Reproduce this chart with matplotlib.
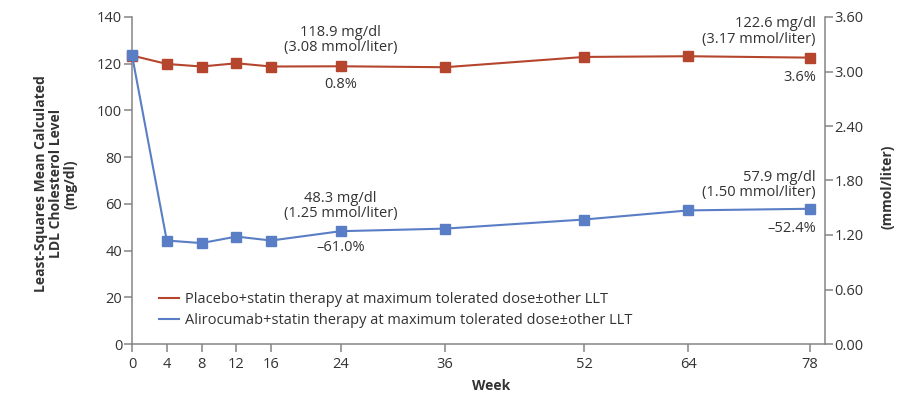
import matplotlib
matplotlib.use("Agg")
import matplotlib.pyplot as plt
from matplotlib.lines import Line2D

plt.rcParams['font.family'] = ['Open Sans', 'DejaVu Sans']

# Study weeks and least-squares mean LDL cholesterol (mg/dl)
weeks = [0, 4, 8, 12, 16, 24, 36, 52, 64, 78]
placebo = [123.5, 119.9, 118.8, 120.2, 118.8, 118.9, 118.5, 122.9, 123.2, 122.6]
alirocumab = [123.7, 44.3, 43.2, 46.0, 44.3, 48.3, 49.4, 53.3, 57.2, 57.9]

placebo_label = "Placebo+statin therapy at maximum tolerated dose\u00b1other LLT"
alirocumab_label = "Alirocumab+statin therapy at maximum tolerated dose\u00b1other LLT"

# Callouts: (week, mg/dl, mmol/liter, percent change)
placebo_w24 = (24, 118.9, "3.08", "0.8%")
placebo_w78 = (78, 122.6, "3.17", "3.6%")
aliro_w24 = (24, 48.3, "1.25", "\u201361.0%")
aliro_w78 = (78, 57.9, "1.50", "\u201352.4%")

left_ticks = [0, 20, 40, 60, 80, 100, 120, 140]
right_ticks = [0.0, 0.6, 1.2, 1.8, 2.4, 3.0, 3.6]

RED = "#b5462d"
BLUE = "#5a7ec6"
AXIS = "#858585"
TEXT = "#333333"
FS = 10.5
LFS = 10

fig = plt.figure(figsize=(8.98, 3.96), dpi=100)
ax = fig.add_axes([132 / 898, 1 - 344 / 396, 693 / 898, 327 / 396])

ax.plot(weeks, placebo, color=RED, lw=1.5, marker="s", ms=7.5,
        zorder=3, clip_on=False)
ax.plot(weeks, alirocumab, color=BLUE, lw=1.5, marker="s", ms=7.5,
        zorder=4, clip_on=False)

ax.set_xlim(0, 79.7)
ax.set_ylim(0, 140)
ax.set_xticks(weeks)
ax.set_yticks(left_ticks)

for side in ("top", "right"):
    ax.spines[side].set_visible(False)
for side in ("left", "bottom"):
    ax.spines[side].set_color(AXIS)
    ax.spines[side].set_linewidth(1.1)
ax.tick_params(axis="both", direction="out", length=5.5, width=1.1, color=AXIS,
               labelsize=FS, labelcolor=TEXT)
ax.tick_params(axis="y", pad=1.5)
ax.tick_params(axis="x", pad=3.5)

ax2 = ax.twinx()
ax2.set_ylim(0, 3.6)
ax2.set_yticks(right_ticks)
ax2.set_yticklabels([f"{v:.2f}" for v in right_ticks])
for side in ("top", "left", "bottom"):
    ax2.spines[side].set_visible(False)
ax2.spines["right"].set_color(AXIS)
ax2.spines["right"].set_linewidth(1.1)
ax2.tick_params(axis="y", direction="out", length=5.5, width=1.1, color=AXIS,
                labelsize=FS, labelcolor=TEXT, pad=1.5)

ax.set_xlabel("Week", fontsize=LFS, fontweight="bold", color=TEXT)
ax.xaxis.set_label_coords((491 - 132) / 693, -(379 - 344) / 327)
ax.set_ylabel("Least-Squares Mean Calculated\nLDL Cholesterol Level\n(mg/dl)",
              fontsize=LFS, fontweight="bold", color=TEXT, linespacing=1.1)
ax.yaxis.set_label_coords(-(132 - 78) / 693, 0.49)
ax2.set_ylabel("(mmol/liter)", fontsize=LFS, fontweight="bold", color=TEXT)
ax2.yaxis.set_label_coords(1 + (881 - 825) / 693, 0.48)


def callout(item, ha, dx, above, below):
    wk, mg, mmol, pct = item
    ax.annotate(f"{mg} mg/dl\n({mmol} mmol/liter)", xy=(wk, mg),
                xytext=(dx, above), textcoords="offset points",
                ha=ha, va="bottom", fontsize=FS, color=TEXT, linespacing=1.05)
    ax.annotate(pct, xy=(wk, mg), xytext=(dx, -below), textcoords="offset points",
                ha=ha, va="center", fontsize=FS, color=TEXT)


callout(placebo_w24, "center", 0, 8, 13)
callout(placebo_w78, "right", 4, 8, 14)
callout(aliro_w24, "center", 0, 7, 12)
callout(aliro_w78, "right", 4, 6, 14)

handles = [Line2D([], [], color=RED, lw=1.5), Line2D([], [], color=BLUE, lw=1.5)]
ax.legend(handles, [placebo_label, alirocumab_label], loc="upper left",
          bbox_to_anchor=((159 - 132) / 693, (344 - 292) / 327),
          frameon=False, fontsize=FS, handlelength=1.4, handletextpad=0.35,
          labelspacing=0.4, borderpad=0, borderaxespad=0, labelcolor=TEXT)

fig.savefig("out.png", dpi=100, facecolor="white")
